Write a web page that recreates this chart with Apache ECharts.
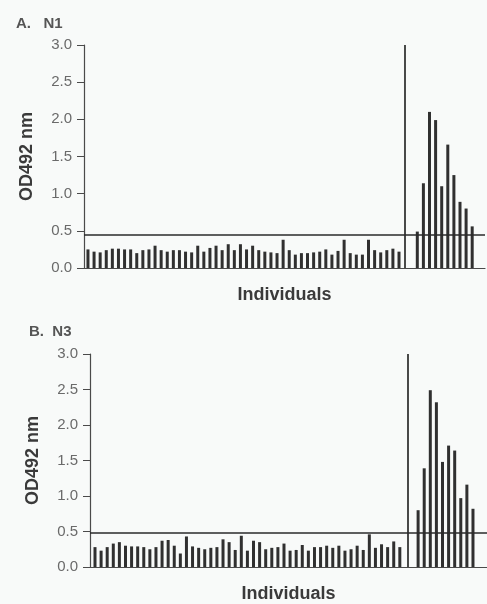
<!DOCTYPE html>
<html>
<head>
<meta charset="utf-8">
<script src="https://cdn.jsdelivr.net/npm/echarts@6/dist/echarts.min.js"></script>
<style>
  html, body { margin: 0; padding: 0; background: #f8faf9; }
  #chart { width: 487px; height: 604px; }
</style>
</head>
<body>
<div id="chart"></div>
<script>
// Panel A (N1): OD492 for negative individuals, then positive sera
const negN1 = [0.25, 0.22, 0.21, 0.24, 0.26, 0.26, 0.25, 0.25, 0.20, 0.24,
               0.25, 0.30, 0.24, 0.22, 0.24, 0.24, 0.22, 0.21, 0.30, 0.22,
               0.27, 0.30, 0.24, 0.32, 0.24,
               0.32, 0.25, 0.30, 0.24, 0.22, 0.21, 0.20, 0.38, 0.24, 0.18,
               0.20, 0.20, 0.21, 0.22, 0.25, 0.18, 0.23, 0.38, 0.20, 0.18,
               0.18, 0.38, 0.24, 0.21, 0.24, 0.26, 0.22];
const posN1 = [0.49, 1.14, 2.10, 1.99, 1.10, 1.66, 1.25, 0.89, 0.80, 0.56];
const cutoffN1 = 0.45;

// Panel B (N3)
const negN3 = [0.28, 0.23, 0.28, 0.33, 0.35, 0.30, 0.29, 0.29, 0.28, 0.25,
               0.28, 0.37, 0.38, 0.30, 0.19, 0.43, 0.29, 0.27, 0.25, 0.27,
               0.28, 0.39, 0.35,
               0.24, 0.44, 0.23, 0.37, 0.35, 0.25, 0.27, 0.28, 0.33, 0.23,
               0.24, 0.31, 0.23, 0.28, 0.28, 0.30, 0.27, 0.30, 0.23, 0.25,
               0.30, 0.24, 0.46, 0.27, 0.32, 0.28, 0.36, 0.28];
const posN3 = [0.80, 1.39, 2.49, 2.32, 1.48, 1.71, 1.64, 0.97, 1.16, 0.82];
const cutoffN3 = 0.48;

const yTicks = [0, 0.5, 1.0, 1.5, 2.0, 2.5, 3.0];

// individuals are numbered 1..n, positives start after a 2-slot gap
function toPoints(neg, pos) {
    const pts = neg.map((v, i) => [i + 1, v]);
    pos.forEach((v, i) => pts.push([neg.length + 3 + i, v]));
    return pts;
}

const axisColor = '#4a4a4a';
const barColor = '#303030';
const font = 'Arial';

function xAxisFor(gridIndex, min, max) {
    return {
        type: 'value',
        gridIndex,
        min,
        max,
        name: 'Individuals',
        nameLocation: 'middle',
        nameGap: 18,
        nameTextStyle: { fontFamily: font, fontWeight: 'bold', fontSize: 18, color: '#3a3a3a' },
        axisLine: { show: true, lineStyle: { color: axisColor, width: 1.2 } },
        axisTick: { show: false },
        axisLabel: { show: false },
        splitLine: { show: false }
    };
}

function yAxisFor(gridIndex) {
    return {
        type: 'value',
        gridIndex,
        min: yTicks[0],
        max: yTicks[yTicks.length - 1],
        interval: 0.5,
        name: 'OD492 nm',
        nameLocation: 'middle',
        nameRotate: 90,
        nameGap: 48,
        nameTextStyle: { fontFamily: font, fontWeight: 'bold', fontSize: 18, color: '#3a3a3a' },
        axisLine: { show: true, lineStyle: { color: axisColor, width: 1.2 } },
        axisTick: { show: true, inside: false, length: 7, lineStyle: { color: axisColor } },
        axisLabel: {
            margin: 12,
            fontFamily: font,
            fontSize: 15,
            color: '#6a6a6a',
            formatter: v => v.toFixed(1)
        },
        splitLine: { show: false }
    };
}

function seriesFor(idx, neg, pos, cutoff, sepOffset) {
    const sep = neg.length + sepOffset;
    return {
        type: 'bar',
        xAxisIndex: idx,
        yAxisIndex: idx,
        barWidth: 3,
        data: toPoints(neg, pos),
        itemStyle: { color: barColor },
        markLine: {
            silent: true,
            symbol: 'none',
            label: { show: false },
            lineStyle: { color: '#2a2a2a', width: 1.7, type: 'solid' },
            data: [
                { yAxis: cutoff },
                [{ coord: [sep, 0] }, { coord: [sep, 3] }]
            ]
        }
    };
}

const chart = echarts.init(document.getElementById('chart'));

chart.setOption({
    backgroundColor: '#f8faf9',
    animation: false,
    title: [
        { text: 'A.   N1', left: 11, top: 11, textStyle: { fontFamily: font, fontWeight: 'bold', fontSize: 15, color: '#555' } },
        { text: 'B.  N3', left: 24, top: 319, textStyle: { fontFamily: font, fontWeight: 'bold', fontSize: 15, color: '#555' } }
    ],
    grid: [
        { left: 84, right: 2, top: 45, bottom: 336 },
        { left: 90, right: 0, top: 354, bottom: 34 }
    ],
    xAxis: [xAxisFor(0, 0.35, 66.1), xAxisFor(1, 0.18, 65.3)],
    yAxis: [yAxisFor(0), yAxisFor(1)],
    series: [
        seriesFor(0, negN1, posN1, cutoffN1, 1.0),
        seriesFor(1, negN3, posN3, cutoffN3, 1.3)
    ]
});
</script>
</body>
</html>
